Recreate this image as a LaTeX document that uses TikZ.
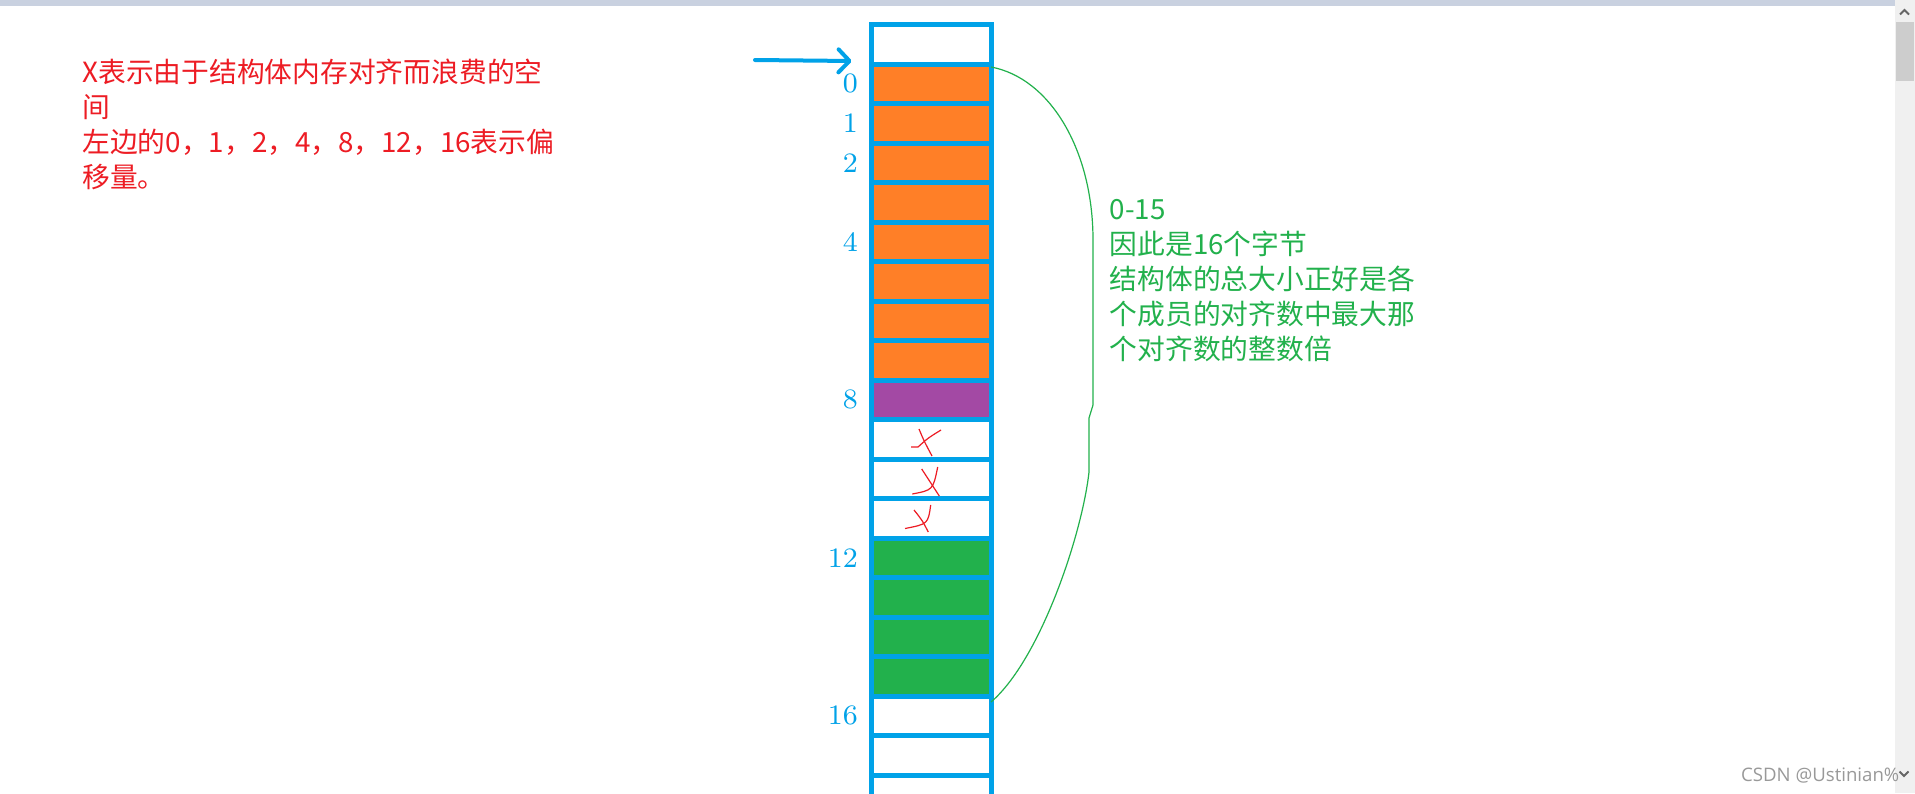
\documentclass[tikz,border=0pt]{standalone}
\usepackage{fontspec}
\newfontfamily\cjk{Noto Sans CJK SC}
\newfontfamily\wmfont{Open Sans}
\usepackage{xcolor}
\usetikzlibrary{arrows.meta,positioning}
\definecolor{paintblue}{RGB}{0,162,232}
\definecolor{paintorange}{RGB}{255,127,39}
\definecolor{paintpurple}{RGB}{163,73,164}
\definecolor{paintgreen}{RGB}{34,177,76}
\definecolor{paintred}{RGB}{237,28,36}
\definecolor{barblue}{RGB}{201,209,224}
\definecolor{scrollgray}{RGB}{240,240,240}
\definecolor{thumbgray}{RGB}{205,205,205}

\begin{document}
\begin{tikzpicture}[x=0.1mm, y=-0.1mm, node distance=0pt]
  % ------- styles -------
  \tikzstyle{cell}=[draw=paintblue, line width=0.5mm, fill=white, minimum width=11.95mm, minimum height=3.95mm, inner sep=0pt, outer sep=0pt]
  \tikzstyle{emptybyte}=[cell]
  \tikzstyle{padbyte}=[cell]
  \tikzstyle{dblbyte}=[cell, fill=paintorange]
  \tikzstyle{charbyte}=[cell, fill=paintpurple]
  \tikzstyle{intbyte}=[cell, fill=paintgreen]
  \tikzstyle{idx}=[text=paintblue, inner sep=0pt, font=\fontsize{8pt}{8pt}\selectfont]
  \tikzstyle{note}=[align=left, anchor=north west, inner sep=0pt, font=\cjk\fontsize{7.9pt}{9.96pt}\selectfont]
  \tikzstyle{pointer}=[draw=paintblue, line width=0.4mm, line cap=round, -{Straight Barb[round, length=1.1mm, width=2.3mm]}]
  \tikzstyle{brace}=[draw=paintgreen, line width=0.12mm]
  \tikzstyle{cross}=[draw=paintred, line width=0.12mm]

  % page frame
  \useasboundingbox (0,0) rectangle (1915,793);
  \fill[white] (0,0) rectangle (1915,793);
  \fill[barblue] (0,0) rectangle (1895,6);
  \fill[scrollgray] (1895,0) rectangle (1915,793);
  \fill[thumbgray] (1896,22) rectangle (1914,81);
  \draw[black!60, line width=0.2mm] (1900,14.5) -- (1904.5,10) -- (1909,14.5);
  \draw[black!60, line width=0.2mm] (1899.5,771.5) -- (1904,776) -- (1908.5,771.5);

  % ------- memory column -------
  \node[emptybyte] (top) at (931.25,44.25) {};
  \node[dblbyte, below=of top] (b0) {};
  \node[dblbyte, below=of b0] (b1) {};
  \node[dblbyte, below=of b1] (b2) {};
  \node[dblbyte, below=of b2] (b3) {};
  \node[dblbyte, below=of b3] (b4) {};
  \node[dblbyte, below=of b4] (b5) {};
  \node[dblbyte, below=of b5] (b6) {};
  \node[dblbyte, below=of b6] (b7) {};
  \node[charbyte, below=of b7] (b8) {};
  \node[padbyte, below=of b8] (b9) {};
  \node[padbyte, below=of b9] (b10) {};
  \node[padbyte, below=of b10] (b11) {};
  \node[intbyte, below=of b11] (b12) {};
  \node[intbyte, below=of b12] (b13) {};
  \node[intbyte, below=of b13] (b14) {};
  \node[intbyte, below=of b14] (b15) {};
  \node[emptybyte, below=of b15] (b16) {};
  \node[emptybyte, below=of b16] (b17) {};
  \node[emptybyte, below=of b17] (b18) {};

  % offsets
  \node[idx, left=1.3mm of b0] (l0) {0};
  \node[idx, left=1.3mm of b1] (l1) {1};
  \node[idx, left=1.3mm of b2] (l2) {2};
  \node[idx, left=1.3mm of b4] (l4) {4};
  \node[idx, left=1.3mm of b8] (l8) {8};
  \node[idx, left=1.3mm of b12] (l12) {12};
  \node[idx, left=1.3mm of b16] (l16) {16};

  % wasted bytes
  \draw[cross] (919,429) .. controls (924,441) .. (932,456);
  \draw[cross] (911,447) -- (918,447) .. controls (928,438) .. (941,430);
  \draw[cross] (921.7,469) .. controls (930,482) .. (939.3,496);
  \draw[cross] (912.3,494) .. controls (933,490) .. (937.7,467);
  \draw[cross] (914,510) .. controls (922,520) .. (928.3,532);
  \draw[cross] (905,528.5) .. controls (928,524) .. (930.7,505);

  % ------- notes -------
  \node[note, text=paintred] (why) at (81.7,58) {X表示由于结构体内存对齐而浪费的空\\间\\左边的0，1，2，4，8，12，16表示偏\\移量。};
  \node[note, text=paintgreen] (size) at (1109,199) {0-15\\因此是16个字节\\结构体的总大小正好是各\\个成员的对齐数中最大那\\个对齐数的整数倍};
  \node[anchor=base east, inner sep=0pt, text=black!40, font=\wmfont\fontsize{5.3pt}{6pt}\selectfont] (mark) at (1900,781.7) {CSDN @Ustinian\%};

  % ------- arrows -------
  \coordinate (ptrtail) at (755,60);
  \draw[pointer] (ptrtail) -- ([xshift=-2mm, yshift=0.3mm]b0.north west);
  \draw[brace] ([yshift=-0.3mm]b0.north east) .. controls (1050,78) and (1093,150) .. (1093,240) -- (1093,405) -- (1089,418) -- (1089,472) .. controls (1082,535) and (1040,660) .. ([yshift=-0.6mm]b16.north east);

\end{tikzpicture}
\end{document}
